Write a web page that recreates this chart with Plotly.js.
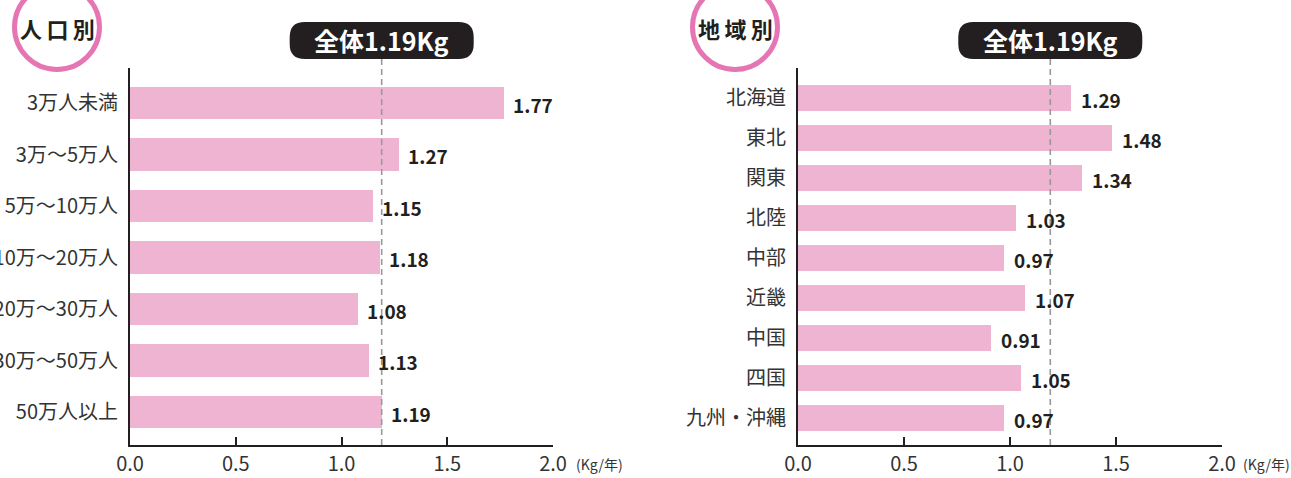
<!DOCTYPE html>
<html><head><meta charset="utf-8">
<script src="https://cdn.plot.ly/plotly-3.0.1.min.js"></script>
<style>html,body{margin:0;padding:0;background:#fff;}#chart{width:1291px;height:478px;}</style>
</head><body><div id="chart"></div>
<script>
// ---- data ----
const popCategories = ['3万人未満','3万～5万人','5万～10万人','10万～20万人','20万～30万人','30万～50万人','50万人以上'];
const popValues = [1.77, 1.27, 1.15, 1.18, 1.08, 1.13, 1.19];
const regionCategories = ['北海道','東北','関東','北陸','中部','近畿','中国','四国','九州・沖縄'];
const regionValues = [1.29, 1.48, 1.34, 1.03, 0.97, 1.07, 0.91, 1.05, 0.97];
const overallValue = 1.19;
const overallLabel = '全体1.19Kg';
const panelTitles = ['人\u2009口\u2009別', '地\u2009域\u2009別'];
const xTickVals = [0, 0.5, 1, 1.5, 2];
const xTickText = ['0.0', '0.5', '1.0', '1.5', '2.0'];
const unitLabel = '(Kg/年)';

// ---- layout helpers ----
const W = 1291, H = 478;
const FONT = '"Noto Sans CJK JP", "Noto Sans", sans-serif';
const INK = '#231f20';
const BAR = '#f0b4d3';
const RING = '#e676b3';
const X = p => p / W;
const Y = p => 1 - p / H;
const dom1 = [X(130), X(553)];
const dom2 = [X(798), X(1222)];
const yDom = [Y(445), Y(68)];

function roundRect(x0, y0, x1, y1, r) {
  return `M ${X(x0 + r)},${Y(y0)} L ${X(x1 - r)},${Y(y0)} Q ${X(x1)},${Y(y0)} ${X(x1)},${Y(y0 + r)} ` +
    `L ${X(x1)},${Y(y1 - r)} Q ${X(x1)},${Y(y1)} ${X(x1 - r)},${Y(y1)} L ${X(x0 + r)},${Y(y1)} ` +
    `Q ${X(x0)},${Y(y1)} ${X(x0)},${Y(y1 - r)} L ${X(x0)},${Y(y0 + r)} Q ${X(x0)},${Y(y0)} ${X(x0 + r)},${Y(y0)} Z`;
}
function dataToPx(dom, v) { return dom[0] * W + (v / 2) * (dom[1] - dom[0]) * W; }

const traces = [
  { type: 'bar', orientation: 'h', x: popValues, y: popCategories, xaxis: 'x', yaxis: 'y',
    marker: { color: BAR }, width: 0.63, hoverinfo: 'none' },
  { type: 'bar', orientation: 'h', x: regionValues, y: regionCategories, xaxis: 'x2', yaxis: 'y2',
    marker: { color: BAR }, width: 0.65, hoverinfo: 'none' }
];

function xAxis(dom, anchor) {
  return { domain: dom, anchor: anchor, range: [0, 2], tickvals: xTickVals, ticktext: xTickText,
    showline: true, linewidth: 2, linecolor: INK, ticks: 'inside', ticklen: 8, tickwidth: 2, tickcolor: INK,
    showgrid: false, zeroline: false, fixedrange: true, ticklabelstandoff: 0,
    tickfont: { family: FONT, size: 20, color: '#333' } };
}
function yAxis(cats, range, anchor) {
  return { domain: yDom, anchor: anchor, type: 'category', categoryarray: cats, range: range,
    showline: true, linewidth: 2, linecolor: INK, ticks: '', showgrid: false, zeroline: false,
    fixedrange: true, ticklabelstandoff: 6, tickfont: { family: FONT, size: 20, color: '#333' } };
}

const shapes = [];
const annotations = [];
[[dom1, 'x', 57], [dom2, 'x2', 735]].forEach(([dom, xr, cx], i) => {
  const bx = dataToPx(dom, overallValue);
  shapes.push({ type: 'line', xref: xr, yref: 'paper', x0: overallValue, x1: overallValue, y0: Y(445), y1: Y(59),
    line: { color: '#999999', width: 1.6, dash: '6px,4px' }, layer: 'above' });
  shapes.push({ type: 'path', xref: 'paper', yref: 'paper', path: roundRect(bx - 92, 22, bx + 92, 59, 15),
    fillcolor: INK, line: { width: 0 }, layer: 'above' });
  shapes.push({ type: 'circle', xref: 'paper', yref: 'paper', x0: X(cx - 42.5), x1: X(cx + 42.5), y0: Y(69.5), y1: Y(-15.5),
    fillcolor: '#fff', line: { color: RING, width: 5 }, layer: 'above' });
  annotations.push({ xref: xr, yref: 'paper', x: overallValue, y: Y(40.5), text: '<b>' + overallLabel + '</b>',
    showarrow: false, xanchor: 'center', yanchor: 'middle', font: { family: FONT, size: 25, color: '#fff' } });
  annotations.push({ xref: 'paper', yref: 'paper', x: X(cx), y: Y(28), text: '<b>' + panelTitles[i] + '</b>',
    showarrow: false, xanchor: 'center', yanchor: 'middle', font: { family: FONT, size: 22, color: INK } });
  annotations.push({ xref: 'paper', yref: 'paper', x: X(i === 0 ? 574 : 1241), y: Y(464), text: unitLabel,
    showarrow: false, xanchor: 'left', yanchor: 'middle', font: { family: FONT, size: 14, color: '#333' } });
});
popValues.forEach((v, k) => annotations.push({ xref: 'x', yref: 'y', x: v, y: popCategories[k],
  text: '<b>' + v.toFixed(2) + '</b>', showarrow: false, xanchor: 'left', yanchor: 'middle', xshift: 7, yshift: -1,
  font: { family: FONT, size: 19, color: INK } }));
regionValues.forEach((v, k) => annotations.push({ xref: 'x2', yref: 'y2', x: v, y: regionCategories[k],
  text: '<b>' + v.toFixed(2) + '</b>', showarrow: false, xanchor: 'left', yanchor: 'middle', xshift: 8, yshift: -1,
  font: { family: FONT, size: 19, color: INK } }));

const layout = {
  width: W, height: H, margin: { l: 0, r: 0, t: 0, b: 0 },
  paper_bgcolor: '#fff', plot_bgcolor: 'rgba(0,0,0,0)', showlegend: false, bargap: 0,
  font: { family: FONT, color: '#333' },
  xaxis: xAxis(dom1, 'y'),
  yaxis: yAxis(popCategories, [6.64, -0.68], 'x'),
  xaxis2: xAxis(dom2, 'y2'),
  yaxis2: yAxis(regionCategories, [8.675, -0.75], 'x2'),
  shapes: shapes, annotations: annotations
};
Plotly.newPlot('chart', traces, layout, { staticPlot: true, displayModeBar: false });
</script></body></html>
